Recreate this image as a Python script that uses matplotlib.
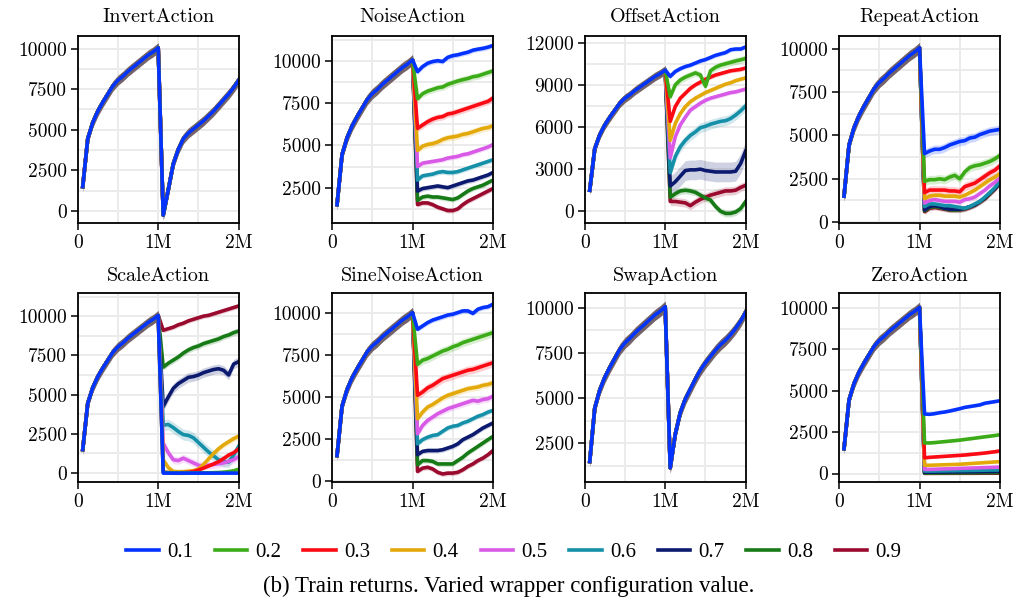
import matplotlib
matplotlib.use("Agg")
import matplotlib.pyplot as plt
from matplotlib.ticker import FixedLocator

# Environment steps (millions); the wrapper is switched on after 1M steps
STEPS_M = [0.0625, 0.125, 0.1875, 0.25, 0.3125, 0.375, 0.4375, 0.5,
           0.5625, 0.625, 0.6875, 0.75, 0.8125, 0.875, 0.9375, 1.0,
           1.0625, 1.125, 1.1875, 1.25, 1.3125, 1.375, 1.4375, 1.5,
           1.5625, 1.625, 1.6875, 1.75, 1.8125, 1.875, 1.9375, 2.0]

LEVELS = ["0.1", "0.2", "0.3", "0.4", "0.5", "0.6", "0.7", "0.8", "0.9"]
COLORS = ["#0433ff", "#3bab17", "#fb0a14", "#e3a90a", "#d85ae6",
          "#1590a8", "#0b1a6e", "#167a16", "#9a0a2e"]

# Returns before the wrapper is applied (identical for every configuration)
WARMUP = [1500, 4450, 5450, 6150, 6700, 7200, 7700, 8050,
          8300, 8600, 8850, 9100, 9350, 9600, 9800, 10050]
WARMUP_SPREAD = 300

# Returns after the wrapper is applied, one row per configuration value
INVERT_POST = [-250, 1300, 2900, 3800, 4450, 4800, 5050, 5300,
               5550, 5850, 6150, 6500, 6850, 7200, 7600, 8050]

SWAP_POST = [1150, 3000, 4200, 4950, 5500, 6050, 6550, 6950,
             7300, 7650, 7950, 8200, 8500, 8850, 9250, 9750]

NOISE_POST = [
    [9350, 9650, 9850, 9950, 10000, 9950, 10200, 10300, 10350, 10430, 10500, 10620, 10680, 10730, 10800, 10900],
    [7750, 8050, 8200, 8300, 8400, 8450, 8600, 8700, 8800, 8880, 8950, 9050, 9100, 9200, 9300, 9400],
    [6000, 6200, 6400, 6550, 6650, 6700, 6850, 6900, 7000, 7100, 7200, 7300, 7400, 7500, 7600, 7800],
    [4700, 4950, 5050, 5100, 5200, 5350, 5450, 5500, 5550, 5650, 5700, 5800, 5900, 6000, 6050, 6150],
    [3750, 3950, 4000, 4050, 4100, 4150, 4250, 4300, 4350, 4450, 4500, 4600, 4700, 4800, 4900, 5050],
    [2950, 3200, 3250, 3300, 3400, 3450, 3400, 3400, 3450, 3550, 3650, 3750, 3850, 3950, 4050, 4150],
    [2300, 2450, 2500, 2550, 2600, 2550, 2500, 2600, 2700, 2800, 2900, 2950, 3050, 3150, 3250, 3400],
    [1750, 1950, 2000, 1950, 1950, 1900, 1850, 1800, 1900, 2100, 2300, 2450, 2550, 2650, 2800, 2950],
    [1500, 1600, 1600, 1500, 1350, 1250, 1150, 1150, 1250, 1500, 1700, 1850, 2000, 2150, 2300, 2450],
]

OFFSET_POST = [
    [9600, 9950, 10150, 10300, 10400, 10550, 10700, 10800, 10950, 11100, 11200, 11300, 11500, 11550, 11550, 11700],
    [8150, 9000, 9350, 9550, 9700, 9850, 9700, 8900, 10000, 10250, 10400, 10500, 10600, 10700, 10780, 10880],
    [6400, 7450, 8050, 8400, 8750, 9000, 9200, 9400, 9550, 9700, 9800, 9900, 10000, 10050, 10100, 10200],
    [5050, 6250, 6950, 7450, 7800, 8050, 8250, 8450, 8600, 8750, 8900, 9050, 9150, 9300, 9400, 9500],
    [3800, 5300, 6150, 6700, 7200, 7450, 7700, 7900, 8050, 8150, 8250, 8350, 8450, 8500, 8600, 8700],
    [2750, 3900, 4600, 5050, 5400, 5650, 5950, 6050, 6200, 6300, 6400, 6450, 6600, 6850, 7150, 7500],
    [1800, 2100, 2500, 2900, 2950, 2950, 3000, 2900, 2850, 2800, 2800, 2800, 2800, 2850, 3400, 4300],
    [1000, 1250, 1450, 1500, 1450, 1350, 1150, 950, 800, 350, 0, -150, -150, -50, 200, 700],
    [700, 700, 650, 600, 400, 650, 850, 1000, 1150, 1250, 1350, 1450, 1450, 1500, 1700, 1850],
]

REPEAT_POST = [
    [3950, 4100, 4200, 4200, 4300, 4450, 4550, 4650, 4700, 4850, 4900, 5050, 5150, 5250, 5300, 5350],
    [2350, 2450, 2450, 2500, 2450, 2600, 2700, 2500, 2900, 3150, 3250, 3300, 3400, 3500, 3650, 3850],
    [1700, 1850, 1850, 1850, 1850, 1800, 1800, 1750, 2050, 2150, 2250, 2450, 2650, 2850, 3000, 3250],
    [1350, 1500, 1550, 1550, 1500, 1500, 1500, 1450, 1550, 1700, 1850, 2050, 2250, 2450, 2600, 2800],
    [1100, 1250, 1300, 1250, 1200, 1200, 1200, 1150, 1300, 1350, 1450, 1650, 1850, 2100, 2300, 2550],
    [900, 1050, 1050, 1000, 950, 950, 900, 850, 800, 900, 1050, 1200, 1450, 1700, 2000, 2350],
    [700, 900, 950, 900, 800, 750, 750, 750, 800, 900, 1000, 1200, 1400, 1700, 1950, 2300],
    [650, 850, 900, 850, 780, 720, 700, 720, 780, 880, 1000, 1180, 1380, 1650, 1950, 2250],
    [600, 800, 850, 800, 750, 700, 700, 700, 750, 850, 980, 1150, 1350, 1620, 1900, 2250],
]

SCALE_POST = [
    [0, 0, 0, 0, 0, 0, 0, 0, 0, 0, 0, 0, 0, 0, 0, 0],
    [60, 30, 20, 20, 20, 20, 20, 20, 20, 20, 30, 40, 60, 100, 150, 250],
    [80, 30, 20, 20, 30, 50, 100, 200, 320, 450, 580, 730, 930, 1150, 1300, 1550],
    [850, 350, 100, 80, 80, 120, 150, 250, 550, 900, 1250, 1550, 1800, 2000, 2200, 2350],
    [1900, 1300, 850, 800, 950, 800, 650, 500, 450, 500, 550, 600, 650, 750, 850, 1050],
    [3050, 3100, 2900, 2650, 2450, 2400, 2250, 1950, 1650, 1350, 1100, 850, 750, 700, 1150, 1700],
    [4250, 4850, 5400, 5700, 5900, 6100, 6150, 6250, 6400, 6500, 6600, 6650, 6550, 6250, 6950, 7100],
    [6750, 7000, 7200, 7400, 7650, 7850, 8000, 8100, 8250, 8350, 8450, 8550, 8700, 8800, 8950, 9050],
    [9100, 9200, 9300, 9450, 9550, 9700, 9800, 9900, 10000, 10050, 10150, 10250, 10350, 10450, 10550, 10650],
]

SINE_POST = [
    [9050, 9250, 9450, 9600, 9700, 9800, 9900, 9950, 10050, 10150, 10150, 10000, 10250, 10350, 10400, 10550],
    [6950, 7200, 7300, 7450, 7600, 7750, 7850, 8000, 8100, 8250, 8350, 8450, 8550, 8650, 8750, 8850],
    [5100, 5300, 5550, 5700, 5900, 6100, 6200, 6300, 6400, 6500, 6600, 6650, 6750, 6850, 6950, 7050],
    [3700, 4100, 4400, 4550, 4750, 4950, 5100, 5200, 5300, 5400, 5500, 5550, 5600, 5700, 5750, 5850],
    [2800, 3300, 3600, 3800, 4000, 4150, 4300, 4400, 4500, 4600, 4700, 4800, 4750, 4850, 4900, 5050],
    [2200, 2450, 2600, 2700, 2750, 2950, 3150, 3250, 3300, 3450, 3550, 3700, 3850, 3950, 4100, 4200],
    [1550, 1750, 1800, 1800, 1800, 1850, 1950, 2050, 2200, 2450, 2600, 2750, 2950, 3150, 3300, 3450],
    [950, 1200, 1200, 1150, 1000, 1000, 1000, 1000, 1200, 1400, 1650, 1850, 2050, 2250, 2450, 2650],
    [550, 750, 800, 700, 500, 400, 450, 450, 500, 650, 850, 1000, 1200, 1350, 1550, 1800],
]

ZERO_POST = [
    [3600, 3580, 3620, 3680, 3720, 3780, 3850, 3920, 4000, 4050, 4100, 4150, 4250, 4300, 4350, 4400],
    [1850, 1850, 1870, 1900, 1930, 1960, 1990, 2020, 2060, 2100, 2140, 2180, 2220, 2260, 2300, 2350],
    [950, 980, 1000, 1020, 1040, 1060, 1080, 1100, 1120, 1150, 1180, 1210, 1240, 1280, 1320, 1370],
    [500, 500, 510, 520, 530, 540, 550, 560, 580, 600, 620, 640, 660, 680, 700, 720],
    [250, 250, 260, 270, 280, 290, 300, 310, 320, 330, 340, 350, 360, 370, 380, 390],
    [150, 150, 150, 160, 160, 170, 170, 180, 180, 190, 190, 200, 200, 210, 210, 220],
    [80, 80, 85, 90, 90, 95, 100, 100, 105, 110, 110, 115, 120, 120, 125, 130],
    [30, 30, 32, 35, 35, 38, 40, 40, 42, 45, 48, 50, 52, 55, 58, 60],
    [10, 10, 10, 12, 12, 12, 14, 14, 15, 15, 16, 17, 18, 18, 19, 20],
]

# Half-width of the shaded band for each configuration value, per wrapper
INVERT_SPREAD = [300, 300, 300, 300, 300, 300, 300, 300, 300]
NOISE_SPREAD = [150, 200, 200, 200, 150, 150, 150, 150, 150]
OFFSET_SPREAD = [150, 250, 150, 150, 150, 350, 700, 250, 300]
REPEAT_SPREAD = [250, 250, 250, 150, 150, 150, 150, 150, 150]
SCALE_SPREAD = [50, 80, 100, 200, 250, 350, 300, 200, 150]
SINE_SPREAD = [150, 250, 250, 200, 200, 150, 150, 150, 150]
SWAP_SPREAD = [300, 300, 300, 300, 300, 300, 300, 300, 300]
ZERO_SPREAD = [80, 80, 80, 60, 60, 50, 40, 30, 20]

PANELS = [
    ("InvertAction", [INVERT_POST] * 9, INVERT_SPREAD, (-720, 10775), [0, 2500, 5000, 7500, 10000]),
    ("NoiseAction", NOISE_POST, NOISE_SPREAD, (433, 11459), [2500, 5000, 7500, 10000]),
    ("OffsetAction", OFFSET_POST, OFFSET_SPREAD, (-811, 12477), [0, 3000, 6000, 9000, 12000]),
    ("RepeatAction", REPEAT_POST, REPEAT_SPREAD, (-30, 10730), [0, 2500, 5000, 7500, 10000]),
    ("ScaleAction", SCALE_POST, SCALE_SPREAD, (-534, 11443), [0, 2500, 5000, 7500, 10000]),
    ("SineNoiseAction", SINE_POST, SINE_SPREAD, (-50, 11190), [0, 2500, 5000, 7500, 10000]),
    ("SwapAction", [SWAP_POST] * 9, SWAP_SPREAD, (395, 10776), [2500, 5000, 7500, 10000]),
    ("ZeroAction", ZERO_POST, ZERO_SPREAD, (-482, 10886), [0, 2500, 5000, 7500, 10000]),
]

plt.rcParams["font.family"] = ["cmr10", "DejaVu Serif"]
plt.rcParams["axes.unicode_minus"] = False

W, H = 1016, 603
fig = plt.figure(figsize=(W / 100, H / 100), dpi=100)

col_left = [77.7, 332.0, 584.7, 839.0]
col_width = 161.0
row_top = [36.0, 293.5]
row_height = [186.7, 188.0]

handles = []
for idx, (title, post, spread, ylim, yticks) in enumerate(PANELS):
    r, c = divmod(idx, 4)
    ax = fig.add_axes([col_left[c] / W, 1 - (row_top[r] + row_height[r]) / H,
                       col_width / W, row_height[r] / H])
    ax.set_facecolor("white")
    # shaded bands first so every mean line sits on top
    for i in range(len(LEVELS)):
        mean = WARMUP + list(post[i])
        half = [WARMUP_SPREAD] * len(WARMUP) + [spread[i]] * len(post[i])
        lo = [m - h for m, h in zip(mean, half)]
        hi = [m + h for m, h in zip(mean, half)]
        ax.fill_between(STEPS_M, lo, hi, color=COLORS[i], alpha=0.2,
                        linewidth=0, zorder=2)
    for i in reversed(range(len(LEVELS))):
        mean = WARMUP + list(post[i])
        ln, = ax.plot(STEPS_M, mean, color=COLORS[i], lw=2.6, zorder=3,
                      solid_joinstyle="round", label=LEVELS[i])
        if idx == 0:
            handles.append(ln)

    ax.set_xlim(0, 2.0)
    ax.set_ylim(*ylim)
    ax.xaxis.set_major_locator(FixedLocator([0, 1, 2]))
    ax.xaxis.set_minor_locator(FixedLocator([0.5, 1.5]))
    ax.set_xticklabels(["0", "1M", "2M"])
    ax.yaxis.set_major_locator(FixedLocator(yticks))
    step = yticks[1] - yticks[0]
    minors = [t + step / 2 for t in [yticks[0] - step] + yticks]
    ax.yaxis.set_minor_locator(FixedLocator(minors))
    ax.set_yticklabels([str(t) for t in yticks])
    ax.grid(True, which="both", color="#ebebeb", lw=1.4, zorder=0)
    ax.set_axisbelow(True)
    ax.tick_params(which="major", direction="out", length=5, width=1.1,
                   labelsize=14, pad=3, color="black")
    ax.tick_params(which="minor", length=0)
    for s in ax.spines.values():
        s.set_color("black")
        s.set_linewidth(1.3)
        s.set_zorder(5)
    ax.set_title(title, fontsize=14.5, pad=10 if r == 0 else 9)

handles = handles[::-1]
fig.legend(handles, LEVELS, loc="center", bbox_to_anchor=(514 / W, 1 - 552 / H),
           ncol=9, frameon=False, handlelength=1.55, handletextpad=0.4,
           columnspacing=1.05, prop={"family": "Liberation Serif", "size": 15})
fig.text(509 / W, 1 - 586 / H, "(b) Train returns. Varied wrapper configuration value.",
         ha="center", va="center", fontsize=16.5, family="Liberation Serif")

fig.savefig("out.png", dpi=100, facecolor="white")
